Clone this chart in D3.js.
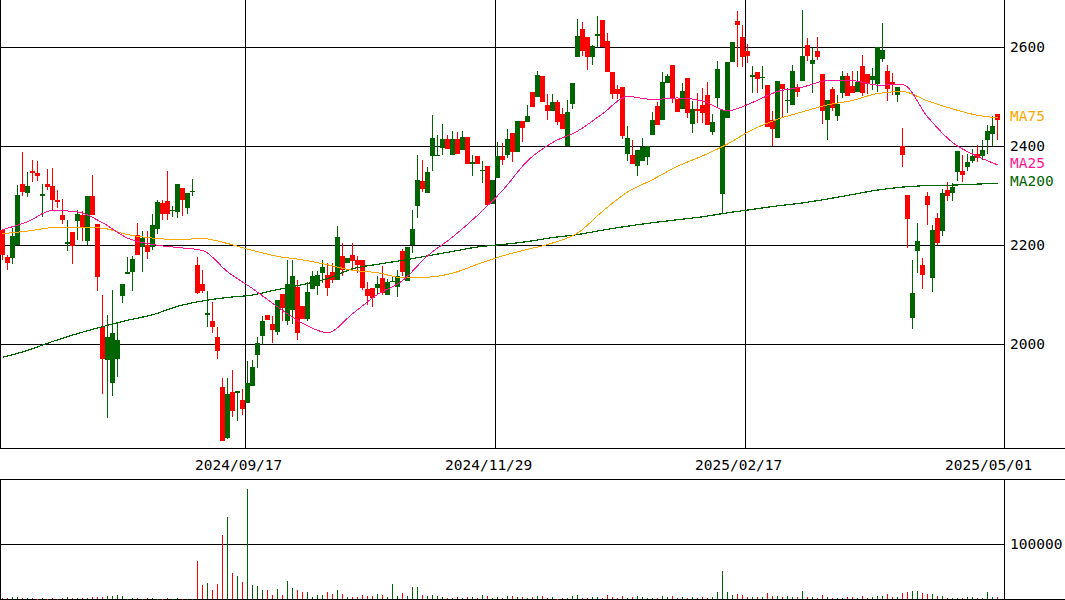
<!DOCTYPE html>
<html>
<head>
<meta charset="utf-8">
<script src="https://cdn.jsdelivr.net/npm/d3@7"></script>
<style>
  body { margin: 0; background: #fff; }
  svg { display: block; }
  text { font-family: "DejaVu Sans Mono", monospace; font-size: 14.5px; }
</style>
</head>
<body>
<svg id="chart" width="1065" height="600"></svg>
<script>
// Daily sessions, oldest first (200 sessions).
const open = [
  2231,2175,2173,2199,2324,2305,2350,2346,2298,2324,2320,2291,2261,2203,2227,2248,2261,2209,2300,2243,
  2034,1968,1922,1970,2096,2141,2145,2220,2196,2199,2196,2232,2285,2289,2269,2266,2316,2274,2307,2160,
  2122,2059,2047,2015,1914,1811,1904,1902,1887,1881,1916,1978,2017,2059,2041,2025,2102,2046,2069,2116,
  2076,2051,2112,2118,2143,2140,2146,2130,2177,2164,2180,2170,2170,2111,2114,2113,2134,2100,2125,2116,
  2188,2128,2201,2278,2330,2305,2379,2380,2395,2415,2382,2415,2391,2418,2364,2380,2349,2360,2283,2335,
  2380,2381,2426,2387,2451,2448,2510,2498,2541,2482,2470,2488,2465,2399,2485,2579,2637,2621,2579,2623,
  2655,2613,2549,2515,2519,2384,2381,2359,2369,2377,2423,2480,2453,2528,2564,2495,2475,2537,2444,2475,
  2483,2504,2429,2496,2304,2457,2570,2652,2621,2591,2539,2549,2537,2524,2453,2416,2525,2490,2482,2520,
  2532,2605,2566,2592,2546,2453,2516,2460,2508,2542,2522,2510,2562,2546,2534,2526,2576,2551,2530,2504,
  2399,2302,2053,2187,2160,2300,2133,2255,2229,2312,2306,2347,2350,2357,2369,2384,2379,2413,2425,2465
];
const high = [
  2231,2180,2234,2322,2388,2347,2372,2370,2324,2354,2356,2312,2293,2251,2227,2271,2268,2300,2342,2243,
  2100,2059,2110,2042,2122,2176,2177,2244,2229,2229,2263,2290,2290,2350,2279,2324,2316,2305,2334,2176,
  2149,2108,2085,2034,1931,1931,1947,1906,1910,1965,1968,2015,2056,2059,2056,2089,2102,2169,2169,2130,
  2076,2126,2147,2147,2170,2164,2164,2238,2204,2174,2205,2177,2170,2126,2114,2138,2158,2131,2137,2150,
  2192,2196,2271,2382,2371,2358,2463,2423,2445,2423,2431,2429,2431,2418,2382,2380,2369,2360,2332,2409,
  2406,2435,2426,2451,2451,2483,2510,2551,2541,2506,2506,2493,2476,2493,2528,2657,2650,2621,2605,2662,
  2655,2629,2549,2524,2519,2441,2413,2392,2417,2401,2469,2488,2550,2546,2564,2495,2527,2537,2490,2507,
  2518,2530,2465,2571,2473,2570,2611,2672,2645,2606,2561,2549,2561,2524,2471,2532,2525,2517,2564,2525,
  2675,2618,2598,2621,2546,2493,2520,2503,2551,2547,2551,2551,2584,2546,2558,2600,2648,2564,2547,2519,
  2436,2302,2169,2244,2174,2308,2241,2265,2313,2327,2326,2390,2382,2384,2394,2403,2413,2443,2461,2465
];
const low = [
  2169,2150,2162,2199,2298,2297,2328,2330,2257,2312,2269,2275,2243,2187,2161,2211,2209,2201,2261,2108,
  1900,1851,1894,1933,2083,2141,2108,2179,2145,2172,2189,2223,2250,2250,2257,2254,2258,2262,2300,2102,
  2104,2034,2022,1970,1805,1809,1852,1845,1856,1881,1916,1951,1999,2049,2003,2019,2046,2039,2041,2009,
  2051,2047,2112,2098,2124,2096,2123,2130,2137,2164,2150,2143,2110,2079,2074,2098,2098,2100,2125,2095,
  2137,2128,2184,2255,2308,2305,2349,2380,2382,2393,2382,2384,2391,2363,2340,2363,2326,2278,2283,2335,
  2361,2376,2367,2387,2409,2448,2478,2498,2488,2452,2470,2443,2434,2399,2475,2579,2581,2554,2563,2600,
  2601,2549,2495,2495,2414,2369,2364,2339,2369,2361,2423,2442,2453,2528,2487,2468,2475,2457,2427,2446,
  2446,2442,2423,2477,2265,2457,2570,2559,2559,2568,2507,2507,2516,2438,2399,2416,2457,2467,2482,2498,
  2532,2572,2507,2574,2444,2413,2470,2450,2497,2502,2508,2510,2502,2506,2514,2510,2569,2490,2504,2488,
  2358,2194,2030,2143,2111,2241,2106,2201,2219,2288,2288,2330,2328,2350,2366,2367,2372,2384,2399,2413
];
const close = [
  2179,2163,2219,2302,2308,2320,2345,2339,2304,2318,2291,2287,2251,2207,2197,2263,2234,2300,2261,2135,
  1970,2015,2023,2009,2122,2146,2172,2179,2215,2185,2241,2286,2263,2263,2271,2324,2290,2305,2310,2103,
  2108,2062,2034,1985,1805,1900,1864,1906,1869,1921,1954,2003,2047,2049,2029,2089,2073,2122,2138,2023,
  2051,2106,2138,2140,2156,2114,2130,2216,2149,2174,2167,2159,2113,2096,2092,2122,2103,2126,2128,2138,
  2145,2196,2233,2332,2314,2348,2417,2382,2415,2393,2415,2384,2418,2363,2368,2363,2352,2281,2332,2379,
  2372,2415,2387,2451,2436,2461,2478,2543,2488,2470,2488,2448,2434,2469,2528,2623,2591,2579,2603,2627,
  2601,2549,2506,2506,2421,2417,2364,2392,2397,2401,2453,2442,2530,2542,2497,2468,2512,2467,2475,2471,
  2467,2442,2448,2556,2473,2570,2611,2644,2579,2581,2543,2536,2540,2438,2435,2532,2516,2492,2551,2509,
  2581,2581,2574,2579,2470,2493,2477,2485,2541,2502,2508,2530,2508,2526,2542,2600,2594,2515,2526,2519,
  2381,2253,2103,2209,2139,2281,2231,2204,2306,2298,2318,2390,2341,2367,2379,2376,2392,2431,2441,2452
];
const volume = [
  2400,1800,3600,3600,1800,1800,1800,600,1800,600,1800,600,1800,3600,1800,1800,1800,1800,3600,3600,
  3600,5450,5450,7270,5450,600,1800,1800,600,1800,1800,600,600,1800,600,1800,600,600,600,69000,
  25450,29000,16400,27300,116000,149000,47300,41800,30900,200000,25450,23600,16400,16400,7270,18200,7270,32700,20000,16400,
  12700,12700,3600,7270,7270,12700,9100,16400,9100,3600,3600,3600,7270,5450,5450,9100,7270,3600,27300,5450,
  10900,5450,21800,21800,7270,5450,7270,5450,3600,1800,1800,3600,1800,3600,3600,1800,7270,5450,1800,3600,
  2400,5450,5450,3600,3600,1800,3600,5450,5450,1800,3600,600,1800,1800,5450,7270,1800,1800,3600,3600,
  1800,7270,3600,1800,5450,1800,3600,5450,3600,1800,1800,1800,5450,3600,5450,1800,3600,1800,3600,1800,
  3600,1800,3600,12700,50900,12700,7270,9100,7270,3600,3600,3600,3600,10900,5450,5450,3600,5450,3600,3600,
  14500,3600,3600,1800,7270,3600,1800,1800,1800,3600,3600,1800,5450,1800,3600,5450,5450,9100,3600,3600,
  10900,12700,14500,14500,10900,9100,9100,5450,5450,1800,1800,1800,1800,3600,3600,1800,1800,12700,3600,3600
];

// Moving averages, sampled every fifth session plus the latest one.
const maIndex = [0,5,10,15,20,25,30,35,40,45,50,55,60,65,70,75,80,85,90,95,
                 100,105,110,115,120,125,130,135,140,145,150,155,160,165,170,175,180,185,190,195,199];
const ma25 = [2231,2247,2270,2267,2245,2214,2201,2195,2189,2146,2112,2075,2042,2023,2061,2100,2128,2178,2216,2260,
              2310,2370,2407,2430,2465,2500,2494,2497,2491,2471,2488,2510,2519,2532,2532,2523,2524,2459,2407,2379,2362];
const ma75 = [2223,2228,2235,2236,2234,2221,2214,2211,2213,2203,2189,2177,2170,2160,2149,2144,2134,2135,2143,2161,
              2178,2191,2204,2224,2268,2307,2332,2359,2380,2404,2433,2454,2469,2483,2492,2506,2510,2491,2475,2462,2457];
const ma200 = [1973,1987,2005,2021,2035,2048,2059,2076,2087,2094,2099,2110,2120,2132,2152,2161,2169,2178,2187,2196,
               2201,2207,2215,2221,2230,2238,2245,2251,2257,2265,2272,2279,2285,2293,2302,2311,2317,2320,2321,2323,2325];

const priceTicks = [2000, 2200, 2400, 2600];
const volumeTicks = [100000];
const dateTickIndex = [49, 99, 149, 199];
const dateTickLabels = ["2024/09/17", "2024/11/29", "2025/02/17", "2025/05/01"];

const UP = "#006400", DOWN = "#ff0000";
const W = 1065, plotRight = 1005;
const priceTop = 0, priceBottom = 449;
const volTop = 479, volBottom = 599;

const svg = d3.select("#chart");
const n = close.length;
const candles = d3.range(n).map(i => ({ i, o: open[i], h: high[i], l: low[i], c: close[i], v: volume[i] }));

const x = d3.scaleBand().domain(d3.range(n)).range([0, 1000]).padding(0);
const y = d3.scaleLinear().domain([2000, 2600]).range([344, 47]);
const yv = d3.scaleLinear().domain([0, 100000]).range([volBottom, 544]);
const crisp = v => Math.round(v) + 0.5;

const grid = svg.append("g").attr("stroke", "#000").attr("stroke-width", 1).attr("shape-rendering", "crispEdges");

// price rules
grid.selectAll(".py").data(priceTicks).join("line")
  .attr("x1", 0).attr("x2", plotRight).attr("y1", d => crisp(y(d))).attr("y2", d => crisp(y(d)));
// date rules (the latest session gets a label but no rule)
grid.selectAll(".dx").data(dateTickIndex.slice(0, -1)).join("line")
  .attr("x1", d => x(d) + 0.5).attr("x2", d => x(d) + 0.5).attr("y1", priceTop).attr("y2", priceBottom);
// volume rule
grid.selectAll(".vy").data(volumeTicks).join("line")
  .attr("x1", 0).attr("x2", plotRight).attr("y1", d => crisp(yv(d))).attr("y2", d => crisp(yv(d)));

// frames
const frame = [
  [0.5, priceTop, 0.5, priceBottom], [plotRight - 0.5, priceTop, plotRight - 0.5, priceBottom],
  [0.5, volTop, 0.5, volBottom], [plotRight - 0.5, volTop, plotRight - 0.5, volBottom],
  [0, priceBottom - 0.5, W, priceBottom - 0.5], [0, volTop + 0.5, W, volTop + 0.5],
  [0, volBottom + 0.5, W, volBottom + 0.5]
];
grid.selectAll(".frame").data(frame).join("line")
  .attr("x1", d => d[0]).attr("y1", d => d[1]).attr("x2", d => d[2]).attr("y2", d => d[3]);

// candlesticks
const cg = svg.append("g").attr("shape-rendering", "crispEdges");
const color = d => d.c >= d.o ? UP : DOWN;
cg.selectAll(".wick").data(candles).join("rect")
  .attr("x", d => x(d.i) + 2).attr("width", 1)
  .attr("y", d => Math.round(y(d.h)))
  .attr("height", d => Math.max(1, Math.round(y(d.l)) - Math.round(y(d.h))))
  .attr("fill", color);
cg.selectAll(".body").data(candles).join("rect")
  .attr("x", d => x(d.i)).attr("width", x.bandwidth())
  .attr("y", d => Math.round(y(Math.max(d.o, d.c))))
  .attr("height", d => Math.max(1, Math.round(y(Math.min(d.o, d.c))) - Math.round(y(Math.max(d.o, d.c)))))
  .attr("fill", color);

// volume bars
cg.selectAll(".vol").data(candles).join("rect")
  .attr("x", d => x(d.i) + 2).attr("width", 1)
  .attr("y", d => Math.round(yv(d.v)))
  .attr("height", d => Math.max(1, volBottom - Math.round(yv(d.v))))
  .attr("fill", color);

// moving averages
const maSeries = [
  { name: "MA200", values: ma200, color: "#006400", width: 1.2 },
  { name: "MA75", values: ma75, color: "#ffa500", width: 1 },
  { name: "MA25", values: ma25, color: "#ff1493", width: 1 }
];
const line = d3.line().curve(d3.curveMonotoneX)
  .x((d, k) => x(maIndex[k]) + 2.5).y(d => y(d));
svg.append("g").selectAll("path").data(maSeries).join("path")
  .attr("d", s => line(s.values))
  .attr("fill", "none").attr("stroke", s => s.color).attr("stroke-width", s => s.width)
  .attr("shape-rendering", "crispEdges");

// right-hand labels
const labels = svg.append("g").attr("dominant-baseline", "central");
labels.selectAll(".pl").data(priceTicks).join("text")
  .attr("x", 1010).attr("y", d => y(d)).text(d => d);
labels.selectAll(".vl").data(volumeTicks).join("text")
  .attr("x", 1010).attr("y", d => yv(d)).text(d => d);
labels.selectAll(".ml").data(maSeries).join("text")
  .attr("x", 1010).attr("y", s => y(s.values[s.values.length - 1]) - 2)
  .attr("fill", s => s.color).text(s => s.name);

// date labels
labels.selectAll(".dl").data(dateTickIndex).join("text")
  .attr("x", d => x(d) - 50).attr("y", 465)
  .text((d, k) => dateTickLabels[k]);
</script>
</body>
</html>
